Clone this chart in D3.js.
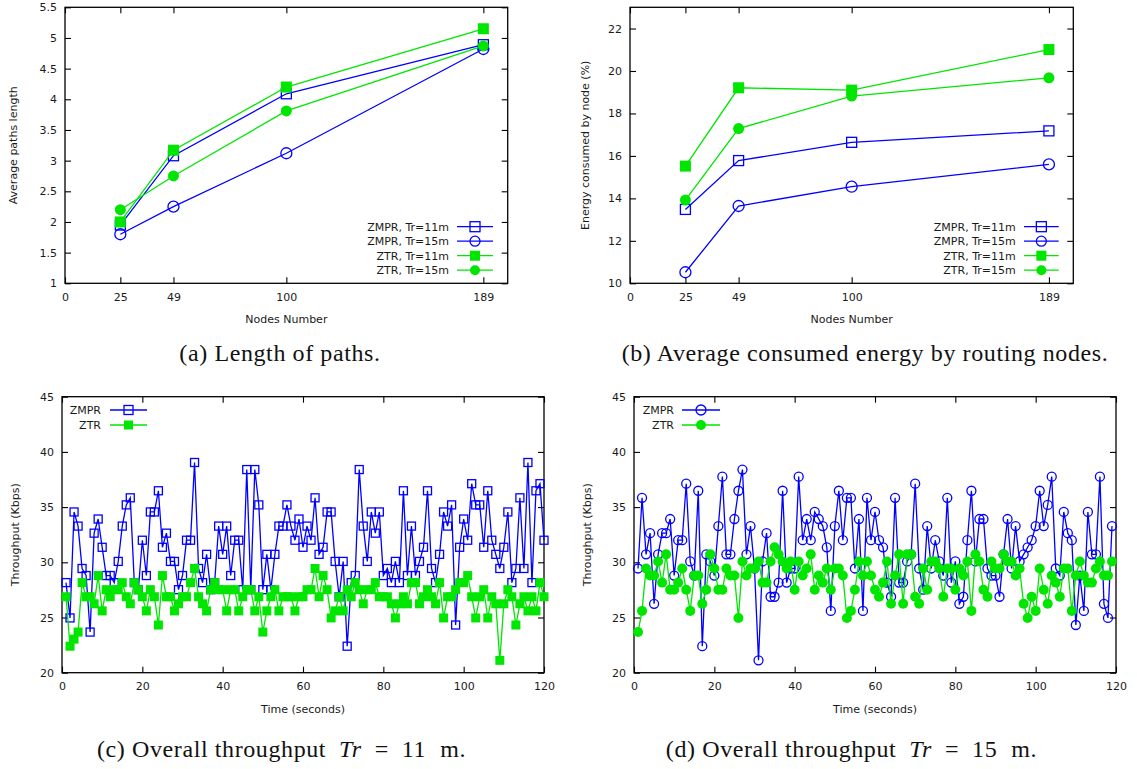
<!DOCTYPE html>
<html>
<head>
<meta charset="utf-8">
<script src="https://cdn.jsdelivr.net/npm/d3@7"></script>
<style>
  body { margin: 0; background: #fff; }
  svg { display: block; }
  .tick text { font-family: "DejaVu Sans", sans-serif; font-size: 11px; fill: #1a1a1a; }
  .tick line { stroke: #000; stroke-width: 1.1; }
  .lab { font-family: "DejaVu Sans", sans-serif; font-size: 11px; fill: #1a1a1a; }
  .cap { font-family: "Liberation Serif", serif; font-size: 24px; fill: #111; letter-spacing: 0.6px; }
</style>
</head>
<body>
<svg id="fig" width="1137" height="769"></svg>
<script>
// ---- data -------------------------------------------------------------
const nodes = [25, 49, 100, 189];

// average path length per network size
const pathZmpr11 = [1.95, 3.08, 4.09, 4.89];
const pathZmpr15 = [1.80, 2.25, 3.12, 4.82];
const pathZtr11  = [2.00, 3.17, 4.20, 5.15];
const pathZtr15  = [2.20, 2.75, 3.81, 4.87];

// energy consumed by routing nodes (%)
const energyZmpr11 = [13.48, 15.78, 16.64, 17.18];
const energyZmpr15 = [10.52, 13.64, 14.55, 15.60];
const energyZtr11  = [15.52, 19.21, 19.10, 21.01];
const energyZtr15  = [13.92, 17.29, 18.82, 19.68];

// throughput (Kbps), one sample per second, Tr = 11 m
const thrZmpr11 = [
  28.16, 24.96, 34.56, 33.28, 29.44, 28.8, 23.68, 32.64, 33.92, 31.36,
  28.8, 28.8, 28.16, 30.08, 33.28, 35.2, 35.84, 28.16, 27.52, 32.0,
  28.8, 34.56, 34.56, 36.48, 31.36, 32.64, 30.08, 30.08, 27.52, 28.8,
  32.0, 32.0, 39.04, 29.44, 28.16, 30.72, 27.52, 28.16, 33.28, 30.72,
  33.28, 28.8, 32.0, 32.0, 27.52, 38.4, 27.52, 38.4, 35.2, 27.52,
  30.72, 27.52, 30.72, 33.28, 33.28, 35.2, 33.28, 32.0, 33.92, 31.36,
  33.28, 32.0, 35.84, 30.72, 31.36, 34.56, 34.56, 30.08, 26.88, 30.08,
  22.4, 28.16, 28.8, 38.4, 33.28, 30.08, 34.56, 32.64, 34.56, 28.8,
  29.44, 28.16, 30.08, 28.16, 36.48, 28.8, 33.28, 28.8, 30.08, 31.36,
  36.48, 29.44, 28.16, 30.72, 34.56, 33.28, 35.2, 24.32, 31.36, 33.92,
  32.0, 37.12, 35.2, 35.2, 31.36, 36.48, 32.0, 30.72, 29.44, 31.36,
  34.56, 28.16, 29.44, 35.84, 29.44, 39.04, 28.16, 36.48, 37.12, 32.0
];
const thrZtr11 = [
  26.88, 22.4, 23.04, 23.68, 28.16, 26.88, 26.88, 26.24, 28.8, 25.6,
  27.52, 26.88, 27.52, 27.52, 28.16, 26.88, 26.24, 28.16, 27.52, 26.88,
  25.6, 27.52, 26.88, 24.32, 28.8, 26.88, 26.88, 25.6, 26.24, 26.88,
  26.88, 28.16, 29.44, 26.88, 26.24, 25.6, 27.52, 28.16, 27.52, 27.52,
  25.6, 27.52, 27.52, 25.6, 26.88, 27.52, 27.52, 25.6, 26.88, 23.68,
  25.6, 26.88, 27.52, 25.6, 26.88, 26.88, 26.88, 25.6, 26.88, 26.88,
  27.52, 27.52, 29.44, 26.88, 28.8, 27.52, 24.96, 25.6, 26.88, 25.6,
  27.52, 26.88, 28.16, 27.52, 26.24, 27.52, 27.52, 28.16, 26.88, 26.88,
  26.88, 26.24, 24.96, 26.24, 26.88, 26.24, 28.16, 28.16, 26.24, 26.88,
  27.52, 26.88, 26.24, 28.16, 24.96, 26.88, 26.88, 27.52, 28.16, 28.16,
  28.8, 26.88, 24.96, 26.88, 27.52, 24.96, 26.88, 26.24, 21.12, 26.24,
  27.52, 26.88, 24.32, 26.24, 26.88, 25.6, 26.88, 25.6, 28.16, 26.88
];

// throughput (Kbps), one sample per second, Tr = 15 m
const thrZmpr15 = [
  29.44, 35.84, 30.72, 32.64, 26.24, 30.72, 32.64, 32.64, 33.92, 28.8,
  32.0, 32.0, 37.12, 30.08, 28.8, 36.48, 22.4, 30.72, 30.08, 28.8,
  33.28, 37.76, 30.72, 30.72, 33.92, 36.48, 38.4, 30.72, 33.28, 29.44,
  21.12, 30.08, 32.64, 26.88, 26.88, 28.16, 36.48, 28.16, 29.44, 29.44,
  37.76, 32.0, 33.92, 32.0, 34.56, 33.92, 33.28, 31.36, 25.6, 33.28,
  36.48, 32.0, 35.84, 35.84, 29.44, 33.92, 25.6, 35.84, 32.0, 34.56,
  32.0, 31.36, 28.16, 26.88, 35.84, 28.16, 28.16, 30.08, 30.72, 37.12,
  29.44, 27.52, 33.28, 29.44, 32.0, 30.08, 28.8, 35.84, 28.16, 30.08,
  26.24, 26.88, 32.0, 36.48, 30.08, 33.92, 33.92, 29.44, 28.8, 28.8,
  26.88, 30.72, 33.92, 29.44, 33.28, 30.08, 30.72, 31.36, 32.0, 33.28,
  36.48, 33.28, 35.2, 37.76, 29.44, 28.8, 34.56, 32.64, 32.0, 24.32,
  28.8, 25.6, 34.56, 30.72, 30.72, 37.76, 26.24, 24.96, 33.28
];
const thrZtr15 = [
  23.68, 25.6, 29.44, 28.8, 28.8, 30.08, 28.16, 30.72, 27.52, 27.52,
  28.16, 29.44, 27.52, 25.6, 28.8, 28.8, 26.24, 27.52, 30.72, 29.44,
  27.52, 27.52, 29.44, 28.8, 28.8, 24.96, 30.08, 28.8, 29.44, 29.44,
  30.08, 28.16, 28.16, 30.08, 31.36, 30.72, 30.08, 29.44, 30.08, 27.52,
  30.08, 28.8, 29.44, 30.72, 27.52, 28.8, 28.16, 29.44, 27.52, 29.44,
  29.44, 28.8, 24.96, 25.6, 27.52, 30.08, 28.8, 30.08, 28.8, 27.52,
  26.88, 28.16, 30.08, 26.24, 28.8, 30.72, 26.24, 30.72, 30.72, 26.88,
  26.24, 29.44, 27.52, 30.08, 30.08, 29.44, 26.88, 29.44, 29.44, 27.52,
  29.44, 28.8, 30.08, 25.6, 30.72, 30.08, 27.52, 26.88, 30.08, 29.44,
  29.44, 30.72, 30.08, 30.08, 28.8, 29.44, 26.24, 24.96, 26.88, 25.6,
  29.44, 27.52, 26.24, 28.8, 28.16, 26.88, 29.44, 29.44, 25.6, 28.8,
  30.08, 28.8, 28.16, 28.16, 29.44, 30.08, 28.8, 28.8, 30.08
];

// axis ticks
const nodeTicks = [0, 25, 49, 100, 189];
const pathTicks = [1, 1.5, 2, 2.5, 3, 3.5, 4, 4.5, 5, 5.5];
const energyTicks = [10, 12, 14, 16, 18, 20, 22];
const timeTicks = [0, 20, 40, 60, 80, 100, 120];
const thrTicks = [20, 25, 30, 35, 40, 45];

const BLUE = "#0000ff";
const GREEN = "#00e600";

// ---- drawing helpers ---------------------------------------------------
const svg = d3.select("#fig");

function marker(g, kind, cx, cy, size, color) {
  const filled = kind === "fsquare" || kind === "fcircle";
  let m;
  if (kind === "square" || kind === "fsquare") {
    m = g.append("rect").attr("x", cx - size / 2).attr("y", cy - size / 2)
      .attr("width", size).attr("height", size);
  } else {
    m = g.append("circle").attr("cx", cx).attr("cy", cy).attr("r", size / 2);
  }
  m.attr("fill", filled ? color : "none")
   .attr("stroke", color).attr("stroke-width", filled ? 0 : 1.3);
}

function frame(g, x, y, opts) {
  const [x0, x1] = x.range();
  const [yb, yt] = y.range();
  const ax = [];
  ax.push(g.append("g").attr("transform", `translate(0,${yb})`)
    .call(d3.axisBottom(x).tickValues(opts.xTicks).tickSize(-6).tickPadding(10)
      .tickFormat(d3.format("d"))));
  ax.push(g.append("g").attr("transform", `translate(0,${yt})`)
    .call(d3.axisTop(x).tickValues(opts.xTicks).tickSize(-6).tickFormat("")));
  ax.push(g.append("g").attr("transform", `translate(${x0},0)`)
    .call(d3.axisLeft(y).tickValues(opts.yTicks).tickSize(-6).tickPadding(8)
      .tickFormat(d => String(d))));
  ax.push(g.append("g").attr("transform", `translate(${x1},0)`)
    .call(d3.axisRight(y).tickValues(opts.yTicks).tickSize(-6).tickFormat("")));
  ax.forEach(a => a.select(".domain").remove());
  g.append("rect").attr("x", x0).attr("y", yt).attr("width", x1 - x0).attr("height", yb - yt)
    .attr("fill", "none").attr("stroke", "#000").attr("stroke-width", 1.3);
  g.append("text").attr("class", "lab").attr("text-anchor", "middle")
    .attr("x", (x0 + x1) / 2).attr("y", opts.xLabelY).text(opts.xLabel);
  g.append("text").attr("class", "lab").attr("text-anchor", "middle")
    .attr("transform", `translate(${opts.yLabelX},${(yb + yt) / 2}) rotate(-90)`)
    .text(opts.yLabel);
}

function series(g, x, y, xs, vals, color, kind, size) {
  const pts = vals.map((v, i) => [x(xs[i]), y(v)]);
  g.append("path").attr("d", d3.line()(pts)).attr("fill", "none")
    .attr("stroke", color).attr("stroke-width", 1.3);
  pts.forEach(p => marker(g, kind, p[0], p[1], size, color));
}

function legend(g, entries, textRight, lineX0, lineX1, y0, dy, size) {
  entries.forEach((e, i) => {
    const cy = y0 + i * dy;
    g.append("text").attr("class", "lab").attr("text-anchor", "end")
      .attr("x", textRight).attr("y", cy + 4).text(e.label);
    g.append("line").attr("x1", lineX0).attr("x2", lineX1).attr("y1", cy).attr("y2", cy)
      .attr("stroke", e.color).attr("stroke-width", 1.3);
    marker(g, e.kind, (lineX0 + lineX1) / 2, cy, size, e.color);
  });
}

// ---- (a) path length ---------------------------------------------------
{
  const g = svg.append("g");
  const x = d3.scaleLinear([0, 200], [65, 507.7]);
  const y = d3.scaleLinear([1, 5.5], [283.3, 7.3]);
  frame(g, x, y, { xTicks: nodeTicks, yTicks: pathTicks, xLabel: "Nodes Number",
    yLabel: "Average paths length", xLabelY: 323, yLabelX: 17 });
  series(g, x, y, nodes, pathZmpr15, BLUE, "circle", 11);
  series(g, x, y, nodes, pathZmpr11, BLUE, "square", 10);
  series(g, x, y, nodes, pathZtr15, GREEN, "fcircle", 11);
  series(g, x, y, nodes, pathZtr11, GREEN, "fsquare", 11);
  legend(g, [
    { label: "ZMPR, Tr=11m", color: BLUE, kind: "square" },
    { label: "ZMPR, Tr=15m", color: BLUE, kind: "circle" },
    { label: "ZTR, Tr=11m", color: GREEN, kind: "fsquare" },
    { label: "ZTR, Tr=15m", color: GREEN, kind: "fcircle" }
  ], 449, 457, 493, 226.7, 14.5, 10);
}

// ---- (b) energy --------------------------------------------------------
{
  const g = svg.append("g");
  const x = d3.scaleLinear([0, 200], [630, 1073.3]);
  const y = d3.scaleLinear([10, 23], [283.3, 7.3]);
  frame(g, x, y, { xTicks: nodeTicks, yTicks: energyTicks, xLabel: "Nodes Number",
    yLabel: "Energy consumed by node (%)", xLabelY: 323, yLabelX: 589 });
  series(g, x, y, nodes, energyZmpr15, BLUE, "circle", 11);
  series(g, x, y, nodes, energyZmpr11, BLUE, "square", 10);
  series(g, x, y, nodes, energyZtr15, GREEN, "fcircle", 11);
  series(g, x, y, nodes, energyZtr11, GREEN, "fsquare", 11);
  legend(g, [
    { label: "ZMPR, Tr=11m", color: BLUE, kind: "square" },
    { label: "ZMPR, Tr=15m", color: BLUE, kind: "circle" },
    { label: "ZTR, Tr=11m", color: GREEN, kind: "fsquare" },
    { label: "ZTR, Tr=15m", color: GREEN, kind: "fcircle" }
  ], 1015.7, 1024, 1058.7, 226.7, 14.5, 10);
}

// ---- (c) throughput, Tr = 11 m ------------------------------------------
{
  const g = svg.append("g");
  const x = d3.scaleLinear([0, 120], [62, 544]);
  const y = d3.scaleLinear([20, 45], [672.7, 396.7]);
  frame(g, x, y, { xTicks: timeTicks, yTicks: thrTicks, xLabel: "Time (seconds)",
    yLabel: "Throughput (Kbps)", xLabelY: 713, yLabelX: 19 });
  const secs = thrZmpr11.map((_, i) => i + 1);
  series(g, x, y, secs, thrZmpr11, BLUE, "square", 8);
  series(g, x, y, secs, thrZtr11, GREEN, "fsquare", 9);
  legend(g, [
    { label: "ZMPR", color: BLUE, kind: "square" },
    { label: "ZTR", color: GREEN, kind: "fsquare" }
  ], 101, 110, 147, 410, 15, 9);
}

// ---- (d) throughput, Tr = 15 m ------------------------------------------
{
  const g = svg.append("g");
  const x = d3.scaleLinear([0, 120], [634, 1116]);
  const y = d3.scaleLinear([20, 45], [672.7, 396.7]);
  frame(g, x, y, { xTicks: timeTicks, yTicks: thrTicks, xLabel: "Time (seconds)",
    yLabel: "Throughput (Kbps)", xLabelY: 713, yLabelX: 591 });
  const secs = thrZmpr15.map((_, i) => i + 1);
  series(g, x, y, secs, thrZmpr15, BLUE, "circle", 9);
  series(g, x, y, secs, thrZtr15, GREEN, "fcircle", 10);
  legend(g, [
    { label: "ZMPR", color: BLUE, kind: "circle" },
    { label: "ZTR", color: GREEN, kind: "fcircle" }
  ], 674, 682, 720, 410, 15, 10);
}

// ---- sub-figure captions ------------------------------------------------
// each part: text, italic flag, extra gap before it (math spacing)
function caption(cx, cy, parts) {
  const t = svg.append("text").attr("class", "cap").attr("text-anchor", "middle")
    .attr("x", cx).attr("y", cy).attr("xml:space", "preserve");
  parts.forEach(p => {
    const s = t.append("tspan").text(p.text);
    if (p.italic) s.attr("font-style", "italic");
    if (p.gap) s.attr("dx", p.gap);
  });
}
caption(280, 361, [{ text: "(a) Length of paths." }]);
caption(865, 361, [{ text: "(b) Average consumed energy by routing nodes." }]);
caption(281.5, 757, [
  { text: "(c) Overall throughput" }, { text: "Tr", italic: true, gap: 13 },
  { text: "=", gap: 13 }, { text: "11", gap: 13 }, { text: "m.", gap: 14 }
]);
caption(851.5, 757, [
  { text: "(d) Overall throughput" }, { text: "Tr", italic: true, gap: 13 },
  { text: "=", gap: 13 }, { text: "15", gap: 13 }, { text: "m.", gap: 14 }
]);
</script>
</body>
</html>
